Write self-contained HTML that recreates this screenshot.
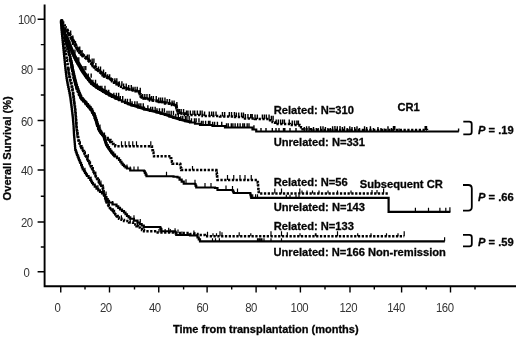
<!DOCTYPE html>
<html><head><meta charset="utf-8"><title>Overall survival</title>
<style>html,body{margin:0;padding:0;background:#fff;width:520px;height:339px;overflow:hidden;font-family:"Liberation Sans",sans-serif}</style>
</head><body>
<svg width="520" height="339" viewBox="0 0 520 339" style="position:absolute;left:0;top:0">
<rect width="520" height="339" fill="#fff"/>
<g stroke="#000" fill="none">
<path d="M44.6 4.6 V286.3 H516" stroke-width="1.9"/>
<path d="M37.6 271.75 H44.6 M37.6 222.00 H44.6 M37.6 170.00 H44.6 M37.6 120.50 H44.6 M37.6 69.10 H44.6 M37.6 19.20 H44.6 M40.8 247.00 H44.6 M40.8 196.25 H44.6 M40.8 145.50 H44.6 M40.8 95.00 H44.6 M40.8 44.60 H44.6 " stroke-width="1.4"/>
<path d="M60.75 286.3 V292.4 M109.50 286.3 V292.4 M158.75 286.3 V292.4 M207.10 286.3 V292.4 M256.10 286.3 V292.4 M300.40 286.3 V292.4 M350.00 286.3 V292.4 M401.60 286.3 V292.4 M450.50 286.3 V292.4 M85.00 286.3 V289.6 M134.50 286.3 V289.6 M183.60 286.3 V289.6 M231.70 286.3 V289.6 M275.90 286.3 V289.6 M325.00 286.3 V289.6 M374.30 286.3 V289.6 M426.25 286.3 V289.6 M475.00 286.3 V289.6 " stroke-width="1.4"/>
</g>
<g stroke="#000" fill="none" stroke-linejoin="miter">
<path d="M66.50 29.20 L69.00 33.70 L72.00 38.70 L75.00 44.20 L78.00 49.70 L81.00 53.20 L84.00 56.20 L86.00 57.70 L90.00 61.70 L94.00 66.10 L97.50 69.70 L101.00 72.70 L104.00 75.20 L107.50 77.40 L110.00 78.70 L114.00 81.45 L119.00 84.45" stroke-width="3.6" stroke-dasharray="3 1.2" stroke-linejoin="round"/>
<path d="M123.00 87.00 L126.50 88.50 L133.00 90.30 L139.00 91.30 L141.50 97.50 L150.00 99.50 L156.50 101.00 L165.00 102.50 L172.00 104.00 L176.00 105.50 L178.00 112.50 L185.00 114.00" stroke-width="2.8" stroke-dasharray="3 1.2" stroke-linejoin="round"/>
<path d="M66.00 35.80 L69.00 43.80 L72.75 52.55 L76.50 60.30 L81.50 69.05 L86.50 76.55 L91.50 82.80 L96.50 86.55 L100.00 88.80 L106.50 92.80 L112.00 95.80 L119.00 99.05" stroke-width="4.0" stroke-linejoin="round"/>
<path d="M125.00 102.40 L131.50 104.90 L138.00 106.90 L144.00 108.90 L150.00 110.40 L156.50 111.90 L165.00 114.40 L173.50 117.40 L180.00 119.40 L190.00 121.90" stroke-width="2.8" stroke-linejoin="round"/>
<path d="M70.00 59.00 L71.30 65.00 L72.50 72.00 L73.80 78.00 L75.50 85.00 L77.50 91.00 L80.50 98.00 L84.50 102.50 L88.50 107.00 L91.50 111.00 L94.00 115.50 L96.00 121.50 L97.75 127.50 L100.00 132.00 L102.75 135.00 L105.00 138.00 L109.00 140.00 L112.00 144.00" stroke-width="2.6" stroke-dasharray="2.4 1.2" stroke-linejoin="round"/>
<path d="M70.50 59.00 L71.90 65.00 L73.20 72.00 L74.60 78.50 L76.30 85.00 L78.30 91.00 L81.30 98.00 L85.30 102.50 L89.30 107.30 L92.20 111.50 L94.70 116.00 L96.70 122.00 L98.50 128.00 L101.00 133.00 L103.50 136.00 L106.50 145.00 L109.00 149.00 L111.50 152.50 L115.00 156.50" stroke-width="2.8" stroke-linejoin="round"/>
<path d="M68.00 68.00 L69.50 77.00 L71.50 85.00 L73.00 93.00 L74.00 101.00 L75.25 110.00 L76.00 119.00 L76.50 127.50 L77.50 135.00 L79.00 142.50 L81.50 148.00 L84.00 152.50 L86.50 157.50 L89.00 162.50 L92.75 170.00 L95.00 175.00 L97.75 180.00 L100.00 184.00 L102.75 187.50 L104.00 195.00 L106.50 202.50 L110.00 208.00 L114.00 212.50 L116.50 216.00 L119.00 218.75" stroke-width="2.4" stroke-dasharray="2.4 1.2" stroke-linejoin="round"/>
<path d="M60.80 20.40 H61.35 V22.30 H61.90 V24.20 H62.45 V26.10 H63.00 V28.00 H63.60 V29.80 H64.20 V31.60 H64.80 V33.40 H65.40 V35.20 H66.00 V37.00 H66.75 V39.00 H67.50 V41.00 H68.25 V43.00 H69.00 V45.00 H69.94 V47.19 H70.88 V49.38 H71.81 V51.56 H72.75 V53.75 H73.69 V55.69 H74.62 V57.62 H75.56 V59.56 H76.50 V61.50 H77.75 V63.69 H79.00 V65.88 H80.25 V68.06 H81.50 V70.25 H82.75 V72.12 H84.00 V74.00 H85.25 V75.88 H86.50 V77.75 H88.17 V79.83 H89.83 V81.92 H91.50 V84.00 H94.00 V85.88 H96.50 V87.75 H98.25 V88.88 H100.00 V90.00 H103.25 V92.00 H106.50 V94.00 H109.25 V95.50 H112.00 V97.00 H115.50 V98.62 H119.00 V100.25 H122.00 V101.62 H125.00 V103.00 H128.25 V104.25 H131.50 V105.50 H138.00 V107.50 H144.00 V109.50 H150.00 V111.00 H156.50 V112.50 H160.75 V113.75 H165.00 V115.00 H169.25 V116.50 H173.50 V118.00 H180.00 V120.00 H185.00 V121.25 H190.00 V122.50 H195.00 V123.75 H200.00 V125.00 H212.50 V126.00 H225.00 V127.50 H252.50 V129.50 H256.25 V131.50 H458.80 V131.50" stroke-width="2.2"/>
<path d="M69.70 45.00 v-4.20 M72.42 45.00 v-4.20 M74.94 53.75 v-4.20 M77.05 61.50 v-4.20 M78.78 61.50 v-4.20 M81.91 70.25 v-4.20 M84.05 70.25 v-4.20 M85.78 70.25 v-4.20 M88.23 77.75 v-4.20 M91.17 77.75 v-4.20 M92.90 84.00 v-4.20 M95.52 84.00 v-4.20 M97.23 87.75 v-4.20 M100.30 90.00 v-4.20 M101.85 90.00 v-4.20 M104.98 90.00 v-4.20 M106.65 94.00 v-4.20 M108.73 94.00 v-4.20 M113.85 97.00 v-4.20 M116.43 97.00 v-4.20 M118.67 97.00 v-4.20 M120.31 100.25 v-4.20 M122.69 100.25 v-4.20 M125.29 103.00 v-4.20 M127.42 103.00 v-4.20 M130.21 103.00 v-4.20 M132.06 105.50 v-4.20 M134.80 105.50 v-4.20 M137.12 105.50 v-4.20 M139.03 107.50 v-4.20 M140.82 107.50 v-4.20 M143.28 107.50 v-4.20 M147.87 109.50 v-4.20 M150.73 111.00 v-4.20 M152.63 111.00 v-4.20 M155.16 111.00 v-4.20 M157.01 112.50 v-4.20 M159.45 112.50 v-4.20 M162.27 112.50 v-4.20 M164.36 112.50 v-4.20 M167.01 115.00 v-4.20 M169.01 115.00 v-4.20 M171.21 115.00 v-4.20 M173.45 115.00 v-4.20 M175.78 118.00 v-4.20 M178.30 118.00 v-4.20 M180.84 120.00 v-4.20 M182.76 120.00 v-4.20 M185.34 120.00 v-4.20 M186.92 120.00 v-4.20 M189.17 120.00 v-4.20 M191.47 122.50 v-4.20 M194.48 122.50 v-4.20 M196.15 122.50 v-4.20 M198.96 122.50 v-4.20 M201.48 125.00 v-4.20 M203.12 125.00 v-4.20 M205.60 125.00 v-4.20 M208.49 125.00 v-4.20 M209.96 125.00 v-4.20 M212.62 126.00 v-4.20 M214.60 126.00 v-4.20 M217.42 126.00 v-4.20 M221.74 126.00 v-4.20 M226.52 127.50 v-4.20 M228.26 127.50 v-4.20 M231.29 127.50 v-4.20 M232.90 127.50 v-4.20 M235.14 127.50 v-4.20 M237.67 127.50 v-4.20 M240.12 127.50 v-4.20 M242.82 127.50 v-4.20 M244.45 127.50 v-4.20 M247.17 127.50 v-4.20 M248.99 127.50 v-4.20 M253.93 129.50 v-4.20 M261.00 131.50 v-3.50 M266.00 131.50 v-3.50 M272.30 131.50 v-3.50 M276.00 131.50 v-3.50 M279.00 131.50 v-3.50 M283.50 131.50 v-3.50 M284.80 131.50 v-3.50 M290.00 131.50 v-3.50 M296.00 131.50 v-3.50 M304.26 131.50 v-4.50 M306.58 131.50 v-5.20 M309.01 131.50 v-5.20 M311.42 131.50 v-3.50 M313.50 131.50 v-4.50 M316.26 131.50 v-3.50 M318.18 131.50 v-3.50 M320.64 131.50 v-5.20 M323.00 131.50 v-5.20 M325.42 131.50 v-4.50 M327.88 131.50 v-3.50 M330.27 131.50 v-3.50 M332.61 131.50 v-5.20 M334.91 131.50 v-5.60 M337.31 131.50 v-5.20 M340.03 131.50 v-5.60 M342.38 131.50 v-4.50 M344.56 131.50 v-5.20 M347.16 131.50 v-3.50 M349.80 131.50 v-5.20 M352.00 131.50 v-4.50 M354.69 131.50 v-4.50 M357.00 131.50 v-5.20 M359.53 131.50 v-3.50 M364.55 131.50 v-5.20 M366.69 131.50 v-4.50 M370.42 131.50 v-5.20 M373.40 131.50 v-3.50 M377.95 131.50 v-4.50 M381.00 131.50 v-3.50 M384.21 131.50 v-3.00 M387.98 131.50 v-5.20 M391.48 131.50 v-3.50 M399.07 131.50 v-3.00 M458.60 131.50 v-3.00 " stroke-width="1.4"/>
<path d="M60.80 20.40 H61.35 V22.30 H61.90 V24.20 H62.45 V26.10 H63.00 V28.00 H63.40 V29.80 H63.80 V31.60 H64.20 V33.40 H64.60 V35.20 H65.00 V37.00 H65.50 V39.00 H66.00 V41.00 H66.50 V43.00 H67.00 V45.00 H67.50 V47.00 H68.00 V49.00 H68.50 V51.00 H69.00 V53.00 H69.50 V55.00 H70.00 V57.00 H70.50 V59.00 H70.97 V61.00 H71.43 V63.00 H71.90 V65.00 H72.23 V66.75 H72.55 V68.50 H72.88 V70.25 H73.20 V72.00 H73.67 V74.17 H74.13 V76.33 H74.60 V78.50 H75.17 V80.67 H75.73 V82.83 H76.30 V85.00 H76.97 V87.00 H77.63 V89.00 H78.30 V91.00 H79.05 V92.75 H79.80 V94.50 H80.55 V96.25 H81.30 V98.00 H82.63 V99.50 H83.97 V101.00 H85.30 V102.50 H86.63 V104.10 H87.97 V105.70 H89.30 V107.30 H90.75 V109.40 H92.20 V111.50 H93.03 V113.00 H93.87 V114.50 H94.70 V116.00 H95.37 V118.00 H96.03 V120.00 H96.70 V122.00 H97.30 V124.00 H97.90 V126.00 H98.50 V128.00 H99.33 V129.67 H100.17 V131.33 H101.00 V133.00 H102.25 V134.50 H103.50 V136.00 H104.10 V137.80 H104.70 V139.60 H105.30 V141.40 H105.90 V143.20 H106.50 V145.00 H107.75 V147.00 H109.00 V149.00 H110.25 V150.75 H111.50 V152.50 H113.25 V154.50 H115.00 V156.50 H117.00 V158.25 H119.00 V160.00 H120.25 V161.75 H121.50 V163.50 H122.75 V164.88 H124.00 V166.25 H125.50 V167.38 H127.00 V168.50 H130.25 V170.50 H144.00 V171.25 H144.83 V172.92 H145.67 V174.58 H146.50 V176.25 H173.50 V176.75 H177.50 V177.50 H179.58 V179.58 H181.67 V181.67 H183.75 V183.75 H195.00 V184.25 H195.62 V185.88 H196.25 V187.50 H215.00 V188.00 H217.50 V190.00 H232.50 V190.50 H233.12 V191.75 H233.75 V193.00 H250.00 V193.25 H250.42 V194.77 H250.83 V196.28 H251.25 V197.80 H388.60 V197.80 H388.60 V211.80 H450.40 V211.80" stroke-width="2.2"/>
<path d="M127.00 168.50 v-4.00 M130.25 170.50 v-4.00 M134.00 170.50 v-4.00 M138.00 170.50 v-4.00 M166.50 176.25 v-4.50 M100.00 128.00 v-3.50 M104.50 136.00 v-3.50 M95.00 116.00 v-3.50 M186.00 183.75 v-4.50 M195.00 184.25 v-4.50 M205.00 187.50 v-4.50 M211.00 187.50 v-4.50 M226.00 190.00 v-4.50 M232.50 190.50 v-4.50 M237.50 193.00 v-4.50 M252.70 197.80 v-3.50 M255.60 197.80 v-3.50 M257.50 197.80 v-3.50 M286.30 197.80 v-3.00 M290.00 197.80 v-3.00 M296.00 197.80 v-3.00 M299.00 197.80 v-3.00 M415.40 211.80 v-4.00 M428.50 211.80 v-4.00 M439.90 211.80 v-4.00 M445.80 211.80 v-4.00 M449.90 211.80 v-4.50 " stroke-width="1.2"/>
<path d="M60.80 20.40 H60.94 V22.32 H61.08 V24.24 H61.22 V26.16 H61.36 V28.08 H61.50 V30.00 H61.70 V32.00 H61.90 V34.00 H62.10 V36.00 H62.30 V38.00 H62.50 V40.00 H62.70 V42.00 H62.90 V44.00 H63.10 V46.00 H63.30 V48.00 H63.50 V50.00 H63.70 V52.00 H63.90 V54.00 H64.10 V56.00 H64.30 V58.00 H64.50 V60.00 H64.70 V62.00 H64.90 V64.00 H65.10 V66.00 H65.30 V68.00 H65.50 V70.00 H65.75 V72.00 H66.00 V74.00 H66.25 V76.00 H66.50 V78.00 H66.81 V79.75 H67.12 V81.50 H67.44 V83.25 H67.75 V85.00 H68.17 V87.00 H68.58 V89.00 H69.00 V91.00 H69.42 V93.17 H69.83 V95.33 H70.25 V97.50 H70.50 V99.40 H70.75 V101.30 H71.00 V103.20 H71.25 V105.10 H71.50 V107.00 H71.75 V109.10 H72.00 V111.20 H72.25 V113.30 H72.50 V115.40 H72.75 V117.50 H72.94 V119.62 H73.12 V121.75 H73.31 V123.88 H73.50 V126.00 H73.60 V127.80 H73.70 V129.60 H73.80 V131.40 H73.90 V133.20 H74.00 V135.00 H74.15 V136.75 H74.30 V138.50 H74.45 V140.25 H74.60 V142.00 H74.76 V144.00 H74.92 V146.00 H75.09 V148.00 H75.25 V150.00 H75.83 V151.67 H76.42 V153.33 H77.00 V155.00 H77.67 V156.67 H78.33 V158.33 H79.00 V160.00 H79.62 V161.50 H80.25 V163.00 H81.08 V165.17 H81.92 V167.33 H82.75 V169.50 H84.00 V171.25 H85.00 V172.83 H86.00 V174.42 H87.00 V176.00 H88.62 V178.00 H90.25 V180.00 H91.17 V181.50 H92.08 V183.00 H93.00 V184.50 H94.75 V186.62 H96.50 V188.75 H98.25 V190.38 H100.00 V192.00 H102.00 V193.50 H104.00 V195.00 H105.25 V197.00 H106.50 V199.00 H107.75 V200.75 H109.00 V202.50 H112.50 V204.50 H116.50 V206.25 H118.25 V207.88 H120.00 V209.50 H122.00 V211.00 H124.00 V212.50 H125.50 V214.25 H127.00 V216.00 H128.62 V217.38 H130.25 V218.75 H133.88 V220.62 H137.50 V222.50 H139.58 V224.00 H141.67 V225.50 H143.75 V227.00 H160.00 V227.50 H160.62 V229.38 H161.25 V231.25 H175.00 V231.75 H175.62 V233.38 H176.25 V235.00 H190.00 V235.50 H197.50 V237.50 H198.75 V239.40 H200.00 V241.30 H444.80 V241.30" stroke-width="2.2"/>
<path d="M84.96 171.25 v-3.50 M90.98 180.00 v-3.50 M97.92 188.75 v-3.50 M106.07 195.00 v-3.50 M112.57 204.50 v-3.50 M133.97 218.75 v-3.50 M140.27 222.50 v-3.50 M161.69 231.25 v-3.50 M168.70 231.25 v-3.50 M175.07 231.75 v-3.50 M181.87 235.00 v-3.50 M194.80 235.50 v-3.50 M212.50 241.30 v-3.00 M215.50 241.30 v-3.00 M219.40 241.30 v-3.00 M257.50 241.30 v-3.00 M260.00 241.30 v-3.00 M262.00 241.30 v-3.00 M264.00 241.30 v-3.00 M271.00 241.30 v-3.00 M281.50 241.30 v-3.00 M258.80 241.30 v-3.00 M261.30 241.30 v-3.00 M444.60 241.30 v-4.00 " stroke-width="1.2"/>
<path d="M60.80 20.40 H61.50 V21.00 H62.33 V22.50 H63.17 V24.00 H64.00 V25.50 H64.83 V27.17 H65.67 V28.83 H66.50 V30.50 H67.33 V32.00 H68.17 V33.50 H69.00 V35.00 H70.00 V36.67 H71.00 V38.33 H72.00 V40.00 H73.00 V41.83 H74.00 V43.67 H75.00 V45.50 H76.00 V47.33 H77.00 V49.17 H78.00 V51.00 H79.50 V52.75 H81.00 V54.50 H82.50 V56.00 H84.00 V57.50 H86.00 V59.00 H88.00 V61.00 H90.00 V63.00 H91.33 V64.47 H92.67 V65.93 H94.00 V67.40 H95.75 V69.20 H97.50 V71.00 H99.25 V72.50 H101.00 V74.00 H102.50 V75.25 H104.00 V76.50 H105.75 V77.60 H107.50 V78.70 H110.00 V80.00 H112.00 V81.38 H114.00 V82.75 H116.50 V84.25 H119.00 V85.75 H121.00 V86.88 H123.00 V88.00 H126.50 V89.50 H133.00 V91.30 H139.00 V92.30 H139.83 V94.37 H140.67 V96.43 H141.50 V98.50 H150.00 V100.50 H156.50 V102.00 H165.00 V103.50 H172.00 V105.00 H176.00 V106.50 H176.50 V108.25 H177.00 V110.00 H177.50 V111.75 H178.00 V113.50 H185.00 V115.00 H202.50 V116.00 H220.00 V116.50 H235.00 V117.00 H245.00 V118.50 H255.00 V119.00 H270.00 V120.25 H272.50 V122.12 H275.00 V124.00 H290.00 V125.00 H299.50 V125.50 H301.00 V127.35 H302.50 V129.20 H312.00 V129.90 H427.00 V130.00" stroke-width="2.4" stroke-dasharray="2.3 1.5"/>
<path d="M70.65 35.00 v-4.50 M72.87 40.00 v-4.50 M75.47 45.50 v-4.50 M79.74 51.00 v-4.50 M82.07 54.50 v-4.50 M87.43 59.00 v-4.50 M89.12 59.00 v-4.50 M92.15 63.00 v-4.50 M93.90 63.00 v-4.50 M95.85 67.40 v-4.50 M98.39 71.00 v-4.50 M100.52 71.00 v-4.50 M103.52 74.00 v-4.50 M105.58 76.50 v-4.50 M107.67 78.70 v-4.50 M109.66 78.70 v-4.50 M114.88 82.75 v-4.50 M116.81 82.75 v-4.50 M119.25 85.75 v-4.50 M121.89 85.75 v-4.50 M123.64 88.00 v-4.50 M126.23 88.00 v-4.50 M128.73 89.50 v-4.50 M131.28 89.50 v-4.50 M133.02 91.30 v-4.50 M135.05 91.30 v-4.50 M137.24 91.30 v-4.50 M140.26 92.30 v-4.50 M142.68 98.50 v-4.50 M144.80 98.50 v-4.50 M146.98 98.50 v-4.50 M149.54 98.50 v-4.50 M151.47 100.50 v-4.50 M153.36 100.50 v-4.50 M156.25 100.50 v-4.50 M158.72 102.00 v-4.50 M160.59 102.00 v-4.50 M162.52 102.00 v-4.50 M164.97 102.00 v-4.50 M167.16 103.50 v-4.50 M169.53 103.50 v-4.50 M172.09 105.00 v-4.50 M174.08 105.00 v-4.50 M176.85 106.50 v-4.50 M179.42 113.50 v-4.50 M181.18 113.50 v-4.50 M183.56 113.50 v-4.50 M186.46 115.00 v-4.50 M187.98 115.00 v-4.50 M190.33 115.00 v-4.50 M192.99 115.00 v-4.50 M194.70 115.00 v-4.50 M197.37 115.00 v-4.50 M200.25 115.00 v-4.50 M202.12 115.00 v-4.50 M204.58 116.00 v-4.50 M209.28 116.00 v-4.50 M211.60 116.00 v-4.50 M213.50 116.00 v-4.50 M216.03 116.00 v-4.50 M222.46 116.50 v-4.50 M224.65 116.50 v-4.50 M229.30 116.50 v-4.50 M231.53 116.50 v-4.50 M234.41 116.50 v-4.50 M236.35 117.00 v-4.50 M238.76 117.00 v-4.50 M241.55 117.00 v-4.50 M243.47 117.00 v-4.50 M245.39 118.50 v-4.50 M247.94 118.50 v-4.50 M250.73 118.50 v-4.50 M252.22 118.50 v-4.50 M255.03 119.00 v-4.50 M257.34 119.00 v-4.50 M262.38 119.00 v-4.50 M264.40 119.00 v-4.50 M266.37 119.00 v-4.50 M269.07 119.00 v-4.50 M271.38 120.25 v-4.50 M273.12 120.25 v-4.50 M276.18 124.00 v-4.50 M278.31 124.00 v-4.50 M280.54 124.00 v-4.50 M282.62 124.00 v-4.50 M284.43 124.00 v-4.50 M289.26 124.00 v-4.50 M292.26 125.00 v-4.50 M294.54 125.00 v-4.50 M296.86 125.00 v-4.50 M298.42 125.00 v-4.50 M393.50 129.90 v-4.00 M394.80 129.90 v-4.00 M425.20 129.90 v-4.00 M426.50 129.90 v-4.00 " stroke-width="1.4"/>
<path d="M60.80 20.40 H61.22 V22.30 H61.65 V24.20 H62.08 V26.10 H62.50 V28.00 H62.90 V29.80 H63.30 V31.60 H63.70 V33.40 H64.10 V35.20 H64.50 V37.00 H65.00 V39.00 H65.50 V41.00 H66.00 V43.00 H66.50 V45.00 H67.00 V47.00 H67.50 V49.00 H68.00 V51.00 H68.50 V53.00 H69.00 V55.00 H69.50 V57.00 H70.00 V59.00 H70.43 V61.00 H70.87 V63.00 H71.30 V65.00 H71.60 V66.75 H71.90 V68.50 H72.20 V70.25 H72.50 V72.00 H72.93 V74.00 H73.37 V76.00 H73.80 V78.00 H74.22 V79.75 H74.65 V81.50 H75.08 V83.25 H75.50 V85.00 H76.17 V87.00 H76.83 V89.00 H77.50 V91.00 H78.25 V92.75 H79.00 V94.50 H79.75 V96.25 H80.50 V98.00 H81.83 V99.50 H83.17 V101.00 H84.50 V102.50 H85.83 V104.00 H87.17 V105.50 H88.50 V107.00 H90.00 V109.00 H91.50 V111.00 H92.33 V112.50 H93.17 V114.00 H94.00 V115.50 H94.67 V117.50 H95.33 V119.50 H96.00 V121.50 H96.58 V123.50 H97.17 V125.50 H97.75 V127.50 H98.50 V129.00 H99.25 V130.50 H100.00 V132.00 H101.38 V133.50 H102.75 V135.00 H103.88 V136.50 H105.00 V138.00 H109.00 V140.00 H110.50 V142.00 H112.00 V144.00 H113.62 V145.12 H115.25 V146.25 H151.50 V146.50 H152.00 V148.45 H152.50 V150.40 H153.00 V152.35 H153.50 V154.30 H154.00 V156.25 H170.00 V156.25 H170.62 V158.12 H171.25 V160.00 H171.88 V161.88 H172.50 V163.75 H180.00 V164.25 H180.42 V166.17 H180.83 V168.08 H181.25 V170.00 H216.25 V170.50 H216.50 V172.40 H216.75 V174.30 H217.00 V176.20 H217.25 V178.10 H217.50 V180.00 H257.50 V180.50 H257.71 V182.67 H257.92 V184.83 H258.12 V187.00 H258.33 V189.17 H258.54 V191.33 H258.75 V193.50 H388.00 V193.50" stroke-width="2.4" stroke-dasharray="2.3 1.5"/>
<path d="M121.50 146.25 v-5.00 M125.25 146.25 v-5.00 M129.00 146.25 v-5.00 M132.75 146.25 v-5.00 M136.50 146.25 v-5.00 M150.80 146.25 v-5.00 M192.50 170.00 v-4.00 M227.50 180.00 v-5.00 M233.75 180.00 v-5.00 M240.00 180.00 v-5.00 M245.00 180.00 v-5.00 M251.25 180.00 v-5.00 M274.80 193.50 v-5.00 M281.50 193.50 v-5.00 M299.80 193.50 v-5.00 M302.00 193.50 v-3.00 M307.00 193.50 v-3.00 M312.50 193.50 v-3.00 M319.00 193.50 v-3.00 M328.00 193.50 v-3.00 M337.50 193.50 v-3.00 M351.00 193.50 v-3.00 M372.00 193.50 v-3.50 M377.00 193.50 v-3.50 M383.60 193.50 v-5.00 " stroke-width="1.2"/>
<path d="M60.80 20.40 H61.10 V22.30 H61.40 V24.20 H61.70 V26.10 H62.00 V28.00 H62.30 V30.00 H62.60 V32.00 H62.90 V34.00 H63.20 V36.00 H63.50 V38.00 H63.80 V40.00 H64.10 V42.00 H64.40 V44.00 H64.70 V46.00 H65.00 V48.00 H65.30 V50.00 H65.60 V52.00 H65.90 V54.00 H66.20 V56.00 H66.50 V58.00 H66.80 V60.00 H67.10 V62.00 H67.40 V64.00 H67.70 V66.00 H68.00 V68.00 H68.30 V69.80 H68.60 V71.60 H68.90 V73.40 H69.20 V75.20 H69.50 V77.00 H70.00 V79.00 H70.50 V81.00 H71.00 V83.00 H71.50 V85.00 H71.88 V87.00 H72.25 V89.00 H72.62 V91.00 H73.00 V93.00 H73.25 V95.00 H73.50 V97.00 H73.75 V99.00 H74.00 V101.00 H74.25 V102.80 H74.50 V104.60 H74.75 V106.40 H75.00 V108.20 H75.25 V110.00 H75.40 V111.80 H75.55 V113.60 H75.70 V115.40 H75.85 V117.20 H76.00 V119.00 H76.12 V121.12 H76.25 V123.25 H76.38 V125.38 H76.50 V127.50 H76.75 V129.38 H77.00 V131.25 H77.25 V133.12 H77.50 V135.00 H77.88 V136.88 H78.25 V138.75 H78.62 V140.62 H79.00 V142.50 H79.83 V144.33 H80.67 V146.17 H81.50 V148.00 H82.33 V149.50 H83.17 V151.00 H84.00 V152.50 H84.83 V154.17 H85.67 V155.83 H86.50 V157.50 H87.33 V159.17 H88.17 V160.83 H89.00 V162.50 H89.94 V164.38 H90.88 V166.25 H91.81 V168.12 H92.75 V170.00 H93.50 V171.67 H94.25 V173.33 H95.00 V175.00 H95.92 V176.67 H96.83 V178.33 H97.75 V180.00 H98.88 V182.00 H100.00 V184.00 H101.38 V185.75 H102.75 V187.50 H103.06 V189.38 H103.38 V191.25 H103.69 V193.12 H104.00 V195.00 H104.62 V196.88 H105.25 V198.75 H105.88 V200.62 H106.50 V202.50 H107.67 V204.33 H108.83 V206.17 H110.00 V208.00 H111.33 V209.50 H112.67 V211.00 H114.00 V212.50 H115.25 V214.25 H116.50 V216.00 H117.75 V217.38 H119.00 V218.75 H121.50 V219.88 H124.00 V221.00 H129.00 V222.50 H133.00 V224.50 H136.50 V226.25 H138.25 V227.62 H140.00 V229.00 H142.00 V230.12 H144.00 V231.25 H156.50 V232.50 H175.00 V233.00 H190.00 V234.00 H197.50 V235.00 H205.00 V236.30 H404.20 V236.30" stroke-width="2.4" stroke-dasharray="2.3 1.5"/>
<path d="M88.34 157.50 v-3.50 M95.73 175.00 v-3.50 M100.92 184.00 v-3.50 M121.42 218.75 v-3.50 M130.23 222.50 v-3.50 M137.50 226.25 v-3.50 M143.96 229.00 v-3.50 M158.99 232.50 v-3.50 M165.14 232.50 v-3.50 M170.26 232.50 v-3.50 M178.01 233.00 v-3.50 M193.92 234.00 v-3.50 M207.50 236.30 v-4.50 M213.00 236.30 v-3.00 M216.50 236.30 v-3.00 M220.00 236.30 v-5.00 M222.00 236.30 v-4.00 M239.20 236.30 v-4.00 M250.80 236.30 v-3.00 M271.00 236.30 v-5.00 M281.50 236.30 v-5.00 M287.30 236.30 v-4.00 M300.00 236.30 v-3.00 M316.00 236.30 v-3.00 M315.40 236.30 v-3.00 M337.50 236.30 v-5.00 M357.70 236.30 v-3.00 M371.00 236.30 v-3.00 M386.50 236.30 v-3.00 M398.00 236.30 v-3.00 M404.20 236.30 v-5.00 " stroke-width="1.2"/>
<path d="M463.30 121.60 H469.30 Q471.70 121.60 471.70 124.00 V132.00 Q471.70 134.40 469.30 134.40 H463.30" stroke-width="1.8"/>
<path d="M463.00 185.00 H468.30 Q471.80 185.00 471.80 188.50 V207.10 Q471.80 210.60 468.30 210.60 H463.00" stroke-width="1.8"/>
<path d="M463.00 234.80 H469.40 Q471.80 234.80 471.80 237.20 V244.00 Q471.80 246.40 469.40 246.40 H463.00" stroke-width="1.8"/>
</g>
<g font-family="Liberation Sans, sans-serif" fill="#000" style="will-change:transform" opacity="0.99">
<text transform="translate(26.50 276.75) scale(0.875 1)" text-anchor="middle" font-size="13.00" letter-spacing="-0.55" fill="#333">0</text>
<text transform="translate(26.75 227.00) scale(0.875 1)" text-anchor="middle" font-size="13.00" letter-spacing="-0.55" fill="#333">20</text>
<text transform="translate(26.75 175.00) scale(0.875 1)" text-anchor="middle" font-size="13.00" letter-spacing="-0.55" fill="#333">40</text>
<text transform="translate(26.75 125.50) scale(0.875 1)" text-anchor="middle" font-size="13.00" letter-spacing="-0.55" fill="#333">60</text>
<text transform="translate(26.75 74.10) scale(0.875 1)" text-anchor="middle" font-size="13.00" letter-spacing="-0.55" fill="#333">80</text>
<text transform="translate(26.75 24.20) scale(0.875 1)" text-anchor="middle" font-size="13.00" letter-spacing="-0.55" fill="#333">100</text>
<text transform="translate(57.50 311.60) scale(0.875 1)" text-anchor="middle" font-size="13.00" letter-spacing="-0.55" fill="#333">0</text>
<text transform="translate(105.75 311.60) scale(0.875 1)" text-anchor="middle" font-size="13.00" letter-spacing="-0.55" fill="#333">20</text>
<text transform="translate(154.75 311.60) scale(0.875 1)" text-anchor="middle" font-size="13.00" letter-spacing="-0.55" fill="#333">40</text>
<text transform="translate(202.25 311.60) scale(0.875 1)" text-anchor="middle" font-size="13.00" letter-spacing="-0.55" fill="#333">60</text>
<text transform="translate(251.05 311.60) scale(0.875 1)" text-anchor="middle" font-size="13.00" letter-spacing="-0.55" fill="#333">80</text>
<text transform="translate(299.35 311.60) scale(0.875 1)" text-anchor="middle" font-size="13.00" letter-spacing="-0.55" fill="#333">100</text>
<text transform="translate(348.25 311.60) scale(0.875 1)" text-anchor="middle" font-size="13.00" letter-spacing="-0.55" fill="#333">120</text>
<text transform="translate(396.00 311.60) scale(0.875 1)" text-anchor="middle" font-size="13.00" letter-spacing="-0.55" fill="#333">140</text>
<text transform="translate(444.75 311.60) scale(0.875 1)" text-anchor="middle" font-size="13.00" letter-spacing="-0.55" fill="#333">160</text>
<text x="273.70" y="114.30" font-size="11.15" font-weight="bold" stroke="#000" stroke-width="0.3" >Related: N=310</text>
<text x="273.70" y="145.80" font-size="11.15" font-weight="bold" stroke="#000" stroke-width="0.3" >Unrelated: N=331</text>
<text x="397.50" y="110.60" font-size="11.15" font-weight="bold" stroke="#000" stroke-width="0.3" >CR1</text>
<text x="273.70" y="185.60" font-size="11.15" font-weight="bold" stroke="#000" stroke-width="0.3" >Related: N=56</text>
<text x="273.70" y="210.50" font-size="11.15" font-weight="bold" stroke="#000" stroke-width="0.3" >Unrelated: N=143</text>
<text x="359.80" y="188.00" font-size="11.15" font-weight="bold" stroke="#000" stroke-width="0.3" >Subsequent CR</text>
<text x="273.70" y="229.70" font-size="11.15" font-weight="bold" stroke="#000" stroke-width="0.3" >Related: N=133</text>
<text x="273.50" y="256.30" font-size="11.15" font-weight="bold" stroke="#000" stroke-width="0.3" >Unrelated: N=166 Non-remission</text>
<text x="478" y="133.80" font-size="11.15" font-weight="bold" stroke="#000" stroke-width="0.3"><tspan font-style="italic">P</tspan> = .19</text>
<text x="478" y="201.30" font-size="11.15" font-weight="bold" stroke="#000" stroke-width="0.3"><tspan font-style="italic">P</tspan> = .66</text>
<text x="478" y="246.20" font-size="11.15" font-weight="bold" stroke="#000" stroke-width="0.3"><tspan font-style="italic">P</tspan> = .59</text>
<text x="173.00" y="333.30" font-size="11.00" font-weight="bold" stroke="#000" stroke-width="0.3" >Time from transplantation (months)</text>
<text transform="translate(11.3 148.3) rotate(-90)" text-anchor="middle" font-size="11.1" font-weight="bold" stroke="#000" stroke-width="0.3">Overall Survival (%)</text>
</g>
</svg>
</body></html>
